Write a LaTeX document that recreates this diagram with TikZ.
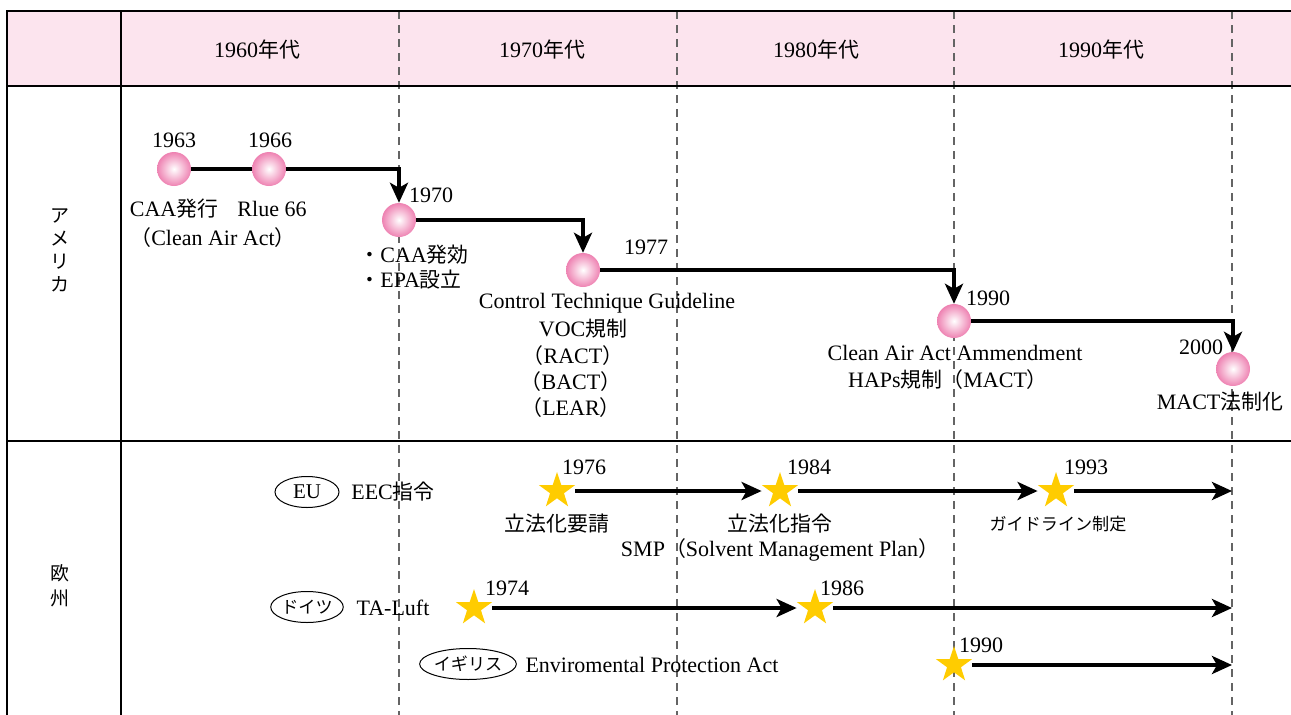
\documentclass[tikz,border=0pt]{standalone}
\usepackage{fontspec}
\setmainfont{Liberation Serif}
\newfontfamily\jp[Scale=0.95]{Noto Sans CJK JP}
\usepackage{tikz}
\usetikzlibrary{arrows.meta,shapes.geometric}
\definecolor{headpink}{RGB}{252,228,238}
\definecolor{ballpink}{RGB}{238,130,178}
\definecolor{staryellow}{RGB}{255,204,0}
\definecolor{dashgray}{RGB}{100,100,100}

\begin{document}
\begin{tikzpicture}[x=1pt, y=-1pt,
    every node/.style={font=\fontsize{22}{26}\selectfont},
    >={Stealth[length=20pt,width=18pt,inset=5pt]},
    ball/.style={circle, minimum size=34pt, inner sep=0pt, inner color=white, outer color=ballpink},
    mark star/.style={star, star points=5, star point ratio=2.6, fill=staryellow, minimum size=38pt, inner sep=0pt},
    flow/.style={line width=4.5pt},
    country/.style={draw, ellipse, line width=1pt, inner sep=0pt, minimum height=31pt},
    decade/.style={draw=dashgray, line width=1.2pt, dash pattern=on 8pt off 6pt},
    frame/.style={line width=2.8pt}]
    \useasboundingbox (0,0) rectangle (1291,715);

    % table
    \fill[headpink] (7,11) rectangle (1291,86);
    \foreach \x in {399,677,954,1232}
        \draw[decade] (\x,11) -- (\x,715);
    \draw[frame] (7,715) -- (7,11) -- (1291,11);
    \draw[frame] (7,86) -- (1291,86);
    \draw[frame] (7,441) -- (1291,441);
    \draw[frame] (121,11) -- (121,715);

    \node (h60) at (257,50) {1960{\jp 年代}};
    \node (h70) at (542,50) {1970{\jp 年代}};
    \node (h80) at (816,50) {1980{\jp 年代}};
    \node (h90) at (1101,50) {1990{\jp 年代}};
    \node[align=center, font={\jp\fontsize{20}{23}\selectfont}] (usa) at (60,250) {ア\\メ\\リ\\カ};
    \node[align=center, font={\jp\fontsize{20}{25}\selectfont}] (eur) at (60,586) {欧\\州};

    % America
    \node[ball] (a63) at (174,169) {};
    \node[ball] (a66) at (269,169) {};
    \node[ball] (a70) at (399,220) {};
    \node[ball] (a77) at (583,270) {};
    \node[ball] (a90) at (954,321) {};
    \node[ball] (a00) at (1233,369) {};
    \draw[flow] (a63) -- (a66);
    \draw[flow,->] (a66) -| (a70);
    \draw[flow,->] (a70) -| (a77);
    \draw[flow,->] (a77) -| (a90);
    \draw[flow,->] (a90) -| (a00);

    \node (y63) at (174,140) {1963};
    \node (y66) at (270,140) {1966};
    \node (y70) at (431,195) {1970};
    \node (y77) at (646,247) {1977};
    \node (y90) at (988,298) {1990};
    \node (y00) at (1201,347) {2000};

    \node (l63) at (174,209) {CAA{\jp 発行}};
    \node (l66) at (272,209) {Rlue 66};
    \node (caa) at (213,238) {{\jp （}Clean Air Act{\jp ）}};
    \node[anchor=west] (l70a) at (356,255) {{\jp ・}CAA{\jp 発効}};
    \node[anchor=west] (l70b) at (356,280) {{\jp ・}EPA{\jp 設立}};
    \node (ctg) at (607,303) {Control Technique Guideline};
    \node (voc) at (583,329) {VOC{\jp 規制}};
    \node (ract) at (573,356) {{\jp （}RACT{\jp ）}};
    \node (bact) at (571,382) {{\jp （}BACT{\jp ）}};
    \node (lear) at (571,408) {{\jp （}LEAR{\jp ）}};
    \node (caaa) at (955,353) {Clean Air Act Ammendment};
    \node (haps) at (948,380) {HAPs{\jp 規制（}MACT{\jp ）}};
    \node (mact) at (1220,402) {MACT{\jp 法制化}};

    % Europe
    \node[country, minimum width=64pt, font={\fontsize{21}{24}\selectfont}] (eu) at (307,492) {EU};
    \node (eec) at (393,492) {EEC{\jp 指令}};
    \node[mark star] (e76) at (557,491) {};
    \node[mark star] (e84) at (780,491) {};
    \node[mark star] (e93) at (1056,491) {};
    \coordinate (e00) at (1232,491);
    \draw[flow,->,shorten <=8pt,shorten >=8pt] (e76) -- (e84);
    \draw[flow,->,shorten <=8pt,shorten >=8pt] (e84) -- (e93);
    \draw[flow,->,shorten <=8pt] (e93) -- (e00);
    \node (y76) at (584,467) {1976};
    \node (y84) at (809,467) {1984};
    \node (y93) at (1086,467) {1993};
    \node (l76) at (557,524) {\jp 立法化要請};
    \node (l84) at (780,524) {\jp 立法化指令};
    \node (smp) at (780,550) {SMP{\jp （}Solvent Management Plan{\jp ）}};
    \node[font={\jp\fontsize{18}{22}\selectfont}] (l93) at (1058,524) {ガイドライン制定};

    \node[country, minimum width=66pt, font={\jp\fontsize{18}{20}\selectfont}] (de) at (307,607) {ドイツ};
    \node (tal) at (393,608) {TA-Luft};
    \node[mark star] (g74) at (474,608) {};
    \node[mark star] (g86) at (815,608) {};
    \coordinate (g00) at (1232,608);
    \draw[flow,->,shorten <=8pt,shorten >=8pt] (g74) -- (g86);
    \draw[flow,->,shorten <=8pt] (g86) -- (g00);
    \node (y74) at (507,588) {1974};
    \node (y86) at (842,588) {1986};

    \node[country, minimum width=80pt, font={\jp\fontsize{18}{20}\selectfont}] (uk) at (468,664) {イギリス};
    \node (epa) at (652,665) {Enviromental Protection Act};
    \node[mark star] (u90) at (954,665) {};
    \coordinate (u00) at (1232,665);
    \draw[flow,->,shorten <=8pt] (u90) -- (u00);
    \node (y90u) at (981,645) {1990};
\end{tikzpicture}
\end{document}
